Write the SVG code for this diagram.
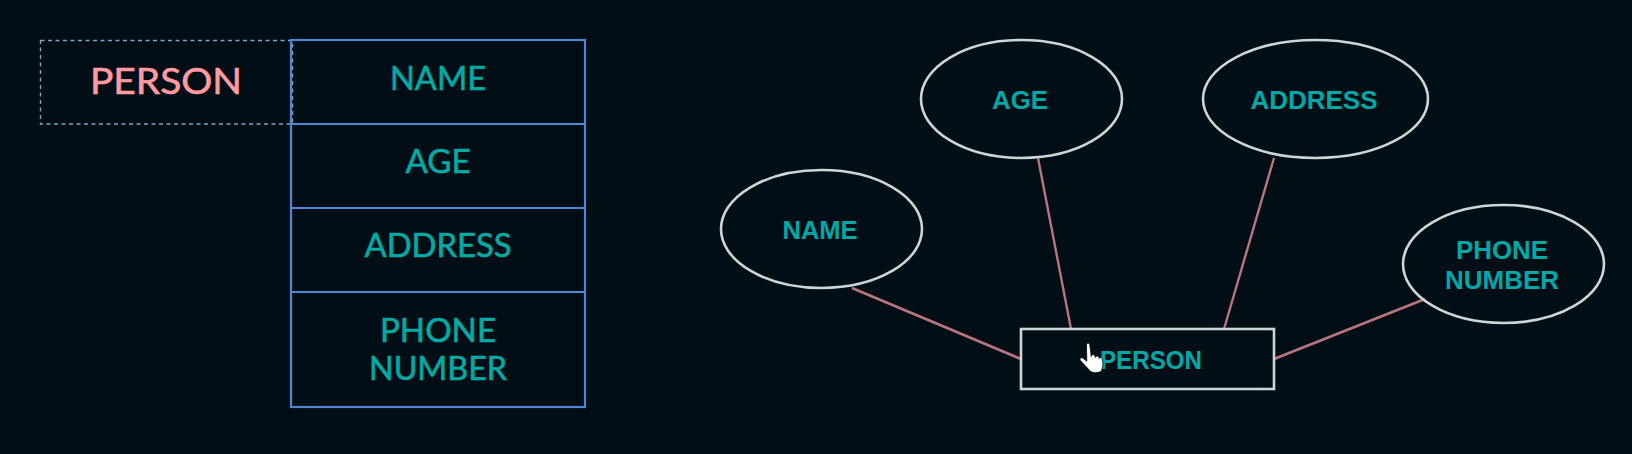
<svg xmlns="http://www.w3.org/2000/svg" width="1632" height="454" viewBox="0 0 1632 454">
<style>
.tbl{fill:none;stroke:#5286d2;stroke-width:2.2}
.dash{fill:none;stroke:#7fa3c4;stroke-width:1.4;stroke-dasharray:4 3.500}
.l{font-family:"Lato","Noto Sans",sans-serif;font-size:33px;fill:#00aba5;stroke:#00aba5;stroke-width:.6;text-anchor:middle}
.r{font-family:"Liberation Sans",Arial,sans-serif;font-weight:700;font-size:26px;fill:#00a8a8;text-anchor:middle}
.shape{fill:none;stroke:#ccd6d6;stroke-width:2.6}
.conn{fill:none;stroke:#b8747f;stroke-width:2.8}
</style>
<rect width="1632" height="454" fill="#020e15"/>
<g id="relation-table">
<rect class="dash" x="40.500" y="40.500" width="252" height="83.500"/>
<text class="l" x="166" y="94" style="fill:#ff9aa0;stroke:#ff9aa0;font-size:36px" textLength="152" lengthAdjust="spacingAndGlyphs">PERSON</text>
<rect class="tbl" x="291" y="40" width="294" height="367"/>
<path class="tbl" d="M291 124H585M291 208H585M291 292H585"/>
<text class="l" x="438" y="90" textLength="96" lengthAdjust="spacingAndGlyphs">NAME</text>
<text class="l" x="438" y="173" textLength="65" lengthAdjust="spacingAndGlyphs">AGE</text>
<text class="l" x="438" y="257" textLength="147" lengthAdjust="spacingAndGlyphs">ADDRESS</text>
<text class="l" x="438" y="342" textLength="116" lengthAdjust="spacingAndGlyphs">PHONE</text>
<text class="l" x="438" y="380" textLength="138" lengthAdjust="spacingAndGlyphs">NUMBER</text>
</g>
<g id="connectors">
<path class="conn" d="M852 288L1021 359"/>
<path class="conn" d="M1038 158L1071 329" style="stroke-width:2.400"/>
<path class="conn" d="M1274 158L1224 329" style="stroke-width:2.400"/>
<path class="conn" d="M1425 299L1274 359"/>
</g>
<g id="attr-name"><ellipse class="shape" cx="821.500" cy="229" rx="100.500" ry="59"/><text class="r" x="820" y="239" textLength="75" lengthAdjust="spacingAndGlyphs">NAME</text></g>
<g id="attr-age"><ellipse class="shape" cx="1021.500" cy="99" rx="100.500" ry="59"/><text class="r" x="1020" y="109" textLength="56" lengthAdjust="spacingAndGlyphs">AGE</text></g>
<g id="attr-address"><ellipse class="shape" cx="1315.500" cy="99" rx="112.500" ry="59"/><text class="r" x="1314" y="109" textLength="127" lengthAdjust="spacingAndGlyphs">ADDRESS</text></g>
<g id="attr-phone"><ellipse class="shape" cx="1503.500" cy="264" rx="100.500" ry="59"/><text class="r" x="1502" y="259" textLength="92" lengthAdjust="spacingAndGlyphs">PHONE</text><text class="r" x="1502" y="289" textLength="114" lengthAdjust="spacingAndGlyphs">NUMBER</text></g>
<g id="entity-person"><rect class="shape" x="1021" y="329" width="253" height="60"/><text class="r" x="1151" y="369" textLength="102" lengthAdjust="spacingAndGlyphs">PERSON</text></g>
<g id="cursor"><path d="M1086.500 345c0-2.500 3-2.500 3.300 0l1.400 11.500c.4-2.500 3.600-2.500 3.900 0l.2 1c.5-1.900 3.200-1.900 3.600 0l.2 1c.6-1.400 2.900-1.200 3.200.5l.6 5c.1 3-.8 5.500-2 7.500-3 1.500-7.500 1.500-10.300 0l-10.200-11c-1.300-1.800.7-3.500 2.400-2.500l4 3.200z" fill="#fff" stroke="#020e15" stroke-width=".8"/></g>
</svg>
